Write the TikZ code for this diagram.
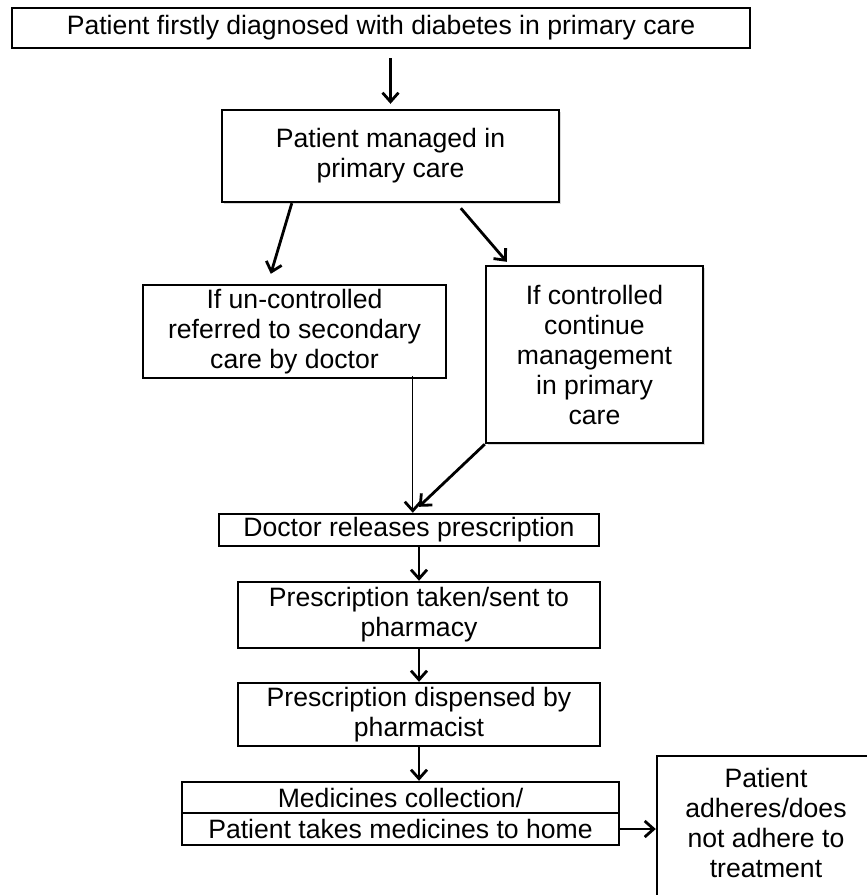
\documentclass[tikz,border=0pt]{standalone}
\usepackage{fontspec}
\setmainfont{Liberation Sans}
\usetikzlibrary{arrows.meta,shadows}

\begin{document}
\begin{tikzpicture}[
    x=0.5pt, y=-0.5pt,
    box/.style={draw, line width=1.2pt, fill=white, inner sep=0pt, align=center, font=\fontsize{13.3}{15}\selectfont},
    shade/.style={box, drop shadow={opacity=0.3, shadow xshift=1.2pt, shadow yshift=-1.2pt}},
    arr/.style={-{Straight Barb[length=4.5pt, width=8pt]}, line width=1.4pt},
    thin/.style={-{Straight Barb[length=4.5pt, width=8pt, line width=1.4pt]}, line width=0.6pt}
]
\path[use as bounding box, clip] (0,0) rectangle (867,895);

% Row 1 - Diagnosis
\node[box, minimum width=369pt, minimum height=20pt] (diag) at (381, 28) {Patient firstly diagnosed with diabetes in primary care};
\node[shade, minimum width=168.5pt, minimum height=46pt] (mgd) at (390.5, 156) {Patient managed in\\primary care};

% Row 2 - Controlled or not
\node[box, minimum width=151.5pt, minimum height=46.5pt] (unc) at (294.5, 331.5) {If un-controlled\\referred to secondary\\care by doctor};
\node[shade, minimum width=108.5pt, minimum height=88.5pt] (ctl) at (594.5, 354.5) {If controlled\\continue\\management\\in primary\\care};

% Row 3 - Prescription
\node[box, minimum width=190pt, minimum height=16pt] (doc) at (409, 530) {Doctor releases prescription};
\node[box, minimum width=181pt, minimum height=33pt] (sent) at (419, 615) {Prescription taken/sent to\\pharmacy};
\node[box, minimum width=181pt, minimum height=31.5pt] (disp) at (419, 714.5) {Prescription dispensed by\\pharmacist};

% Row 4 - Medicines and adherence
\node[box, minimum width=218.5pt, minimum height=15.5pt] (medA) at (400.5, 797.5) {Medicines collection/};
\node[box, minimum width=218.5pt, minimum height=16pt] (medB) at (400.5, 829) {Patient takes medicines to home};
\node[shade, anchor=north, minimum width=109pt, minimum height=80pt, inner ysep=6pt, text depth=42pt] (adh) at (766, 755) {Patient\\adheres/does\\not adhere to\\treatment};

% Connectors
\draw[arr, shorten <=4.5pt, shorten >=2.5pt] (diag.south -| mgd.north) -- (mgd.north);
\draw[arr] ([xshift=35.5pt]mgd.south west) -- ([xshift=64.5pt, yshift=5pt]unc.north west);
\draw[arr] ([xshift=120pt, yshift=-2.5pt]mgd.south west) -- ([xshift=11pt, yshift=1.5pt]ctl.north west);
\draw[thin] ([xshift=135.5pt, yshift=1.5pt]unc.south west) -- ([xshift=97.5pt]doc.north west);
\draw[arr] (ctl.south west) -- ([xshift=100.5pt, yshift=3pt]doc.north west);
\draw[arr] (doc.south -| sent.north) -- (sent.north);
\draw[arr] (sent.south) -- (disp.north);
\draw[arr] (disp.south) -- (disp.south |- medA.north);
\draw[arr] (medB.east) -- (medB.east -| adh.west);
\end{tikzpicture}
\end{document}
